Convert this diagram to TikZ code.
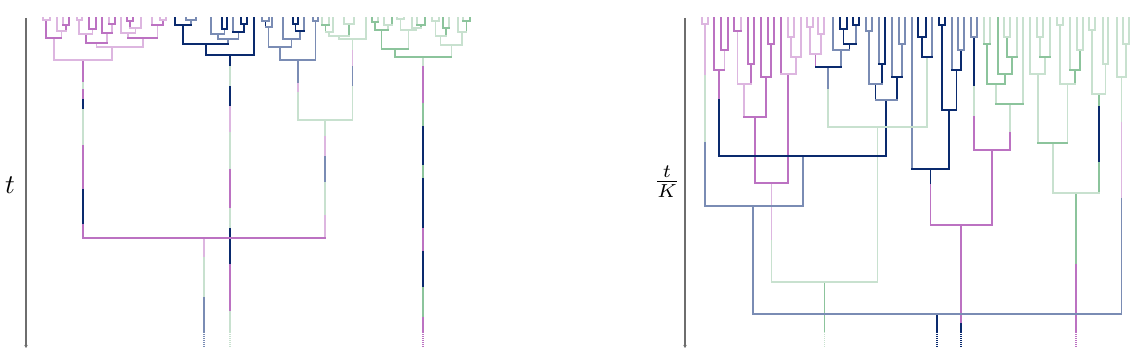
\documentclass[tikz,border=0pt]{standalone}
\usetikzlibrary{arrows.meta}
\definecolor{cPK}{HTML}{BC72C2}
\definecolor{cLP}{HTML}{DDB6E0}
\definecolor{cNV}{HTML}{0A2A6E}
\definecolor{cBG}{HTML}{7A8CB4}
\definecolor{cGN}{HTML}{8CC49C}
\definecolor{cLG}{HTML}{C8E1CF}
\definecolor{axisgray}{HTML}{6E6E6E}
\tikzset{
  axisline/.style={draw=axisgray, line cap=butt, -{Stealth[length=3pt,width=3.5pt]}},
  dotend/.style={dash pattern=on 1pt off 1pt, line cap=butt},
  lbl/.style={inner sep=0pt, scale=2.7}
}
\begin{document}
\begin{tikzpicture}[x=1pt,y=-1pt,line width=1.35pt,line cap=rect]
\useasboundingbox (0,0) rectangle (1133,361);
% ---------- axes and labels
\draw[axisline, line width=1.2pt] (26,18) -- (26,348);
\draw[axisline, line width=1.8pt] (685,18) -- (685,348);
\node[lbl] (tlab) at (10,185) {$t$};
\node[lbl] (tklab) at (667,182) {$\frac{t}{K}$};
% ---------- LEFT PANEL: vertical branches
\foreach \x/\a/\b/\s in {
43/18/20/cLP, 50/18/20/cLP, 46/20/38/cPK,
57/18/31/cLP, 63/18/25/cLP, 69/18/25/cPK, 66/25/31/cPK, 61.5/31/38/cLP, 54/38/60/cLP,
77/18/20/cLP, 82/18/20/cLP, 79/20/34/cLP, 89/18/29/cPK, 96/18/29/cPK, 92.5/29/34/cLP, 86/34/43/cPK,
102/18/33/cPK, 109/18/24/cLP, 115/18/24/cPK, 112/24/33/cLP, 107/33/43/cLP, 96.5/43/47/cLP,
121/18/33/cLP, 127/18/21/cPK, 133/18/21/cPK, 130/21/28/cPK, 141/18/28/cLP, 135.5/28/33/cLP, 128/33/38/cLP,
152/18/25/cLP, 160/18/20/cLP, 166/18/20/cLP, 163/20/25/cPK, 157.5/25/38/cLP, 143/38/47/cLP, 112/47/60/cLP,
83/60/83/cPK, 83/83/90/cLG, 83/90/100/cPK, 83/100/110/cNV, 83/110/146/cLG, 83/146/190/cPK, 83/190/225/cNV, 83/225/238/cPK,
204/238/258/cLP, 204/258/298/cLG, 204/298/332/cBG,
175/18/25/cNV, 186/18/20/cBG, 196/18/20/cBG, 191/20/25/cBG, 183/25/44/cNV,
211/18/34/cBG, 222/18/29/cNV, 227/18/29/cNV, 224.5/29/34/cBG, 218/34/39/cBG,
233/18/32/cBG, 241/18/24/cNV, 247/18/24/cNV, 244/24/32/cNV, 238.5/32/39/cBG, 228/39/44/cBG,
206/44/55/cNV, 254/18/55/cNV,
230/55/67/cNV, 230/67/87/cLG, 230/87/107/cNV, 230/107/133/cLP, 230/133/170/cLG, 230/170/209/cPK, 230/209/229/cLG, 230/229/265/cNV, 230/265/312/cPK, 230/312/332/cLG,
262/18/21/cBG, 269/18/21/cBG, 265.5/21/27/cNV, 272/18/27/cBG, 268.75/27/47/cBG,
283/18/39/cBG, 293/18/24/cNV, 298/18/24/cNV, 295.5/24/31/cNV, 304/18/31/cBG, 300/31/39/cBG, 291.5/39/47/cBG, 280/47/60/cBG,
313/18/21/cBG, 318/18/21/cBG, 315.5/21/60/cBG,
298/60/84/cBG, 298/84/93/cLP, 298/93/120/cLG,
322/18/25/cLG, 329/18/25/cLG, 325.5/25/32/cGN, 333/18/32/cLG, 329/32/36/cLG, 344/18/24/cLG, 354/18/24/cLG, 349/24/36/cGN, 339/36/39/cLG, 366/18/39/cLG,
352.5/39/51/cLG, 352.5/51/67/cLP, 352.5/67/87/cBG, 352.5/87/120/cLG,
325/120/137/cLG, 325/137/157/cLP, 325/157/183/cBG, 325/183/216/cLG, 325/216/238/cLP,
372/18/22/cGN, 378/18/22/cLG, 375/22/30/cGN, 384/18/25/cLG, 392/18/25/cGN, 388/25/30/cLG, 381.5/30/49/cGN,
397/18/19/cLG, 404/18/19/cLG, 400.5/19/30/cLG, 412/18/28/cLG, 417/18/25/cLG, 425/18/25/cGN, 421/25/28/cGN, 416.5/28/30/cLG, 408.5/30/49/cLG, 395/49/57/cGN,
432/18/21/cLG, 439/18/21/cLG, 435.5/21/36/cLG, 443/18/28/cGN, 449/18/28/cLG, 446/28/36/cGN, 440.75/36/45/cLG,
458/18/32/cLG, 463/18/21/cLG, 470/18/21/cGN, 466.5/21/32/cGN, 462/32/45/cLG, 451.5/45/57/cLG,
423/57/67/cLG, 423/67/104/cPK, 423/104/127/cGN, 423/127/166/cNV, 423/166/179/cGN, 423/179/229/cNV, 423/229/252/cPK, 423/252/288/cNV, 423/288/318/cGN, 423/318/332/cPK}
  {\draw[draw=\s] (\x,\a) -- (\x,\b);}
% ---------- LEFT PANEL: horizontal joins
\foreach \a/\b/\y/\s in {
43/50/20/cLP, 46/61.5/38/cPK, 63/69/25/cPK, 57/66/31/cLP, 77/82/20/cLP, 89/96/29/cPK, 79/92.5/34/cLP, 109/115/24/cPK, 102/112/33/cPK, 86/107/43/cPK,
127/133/21/cPK, 130/141/28/cLP, 121/135.5/33/cLP, 160/166/20/cLP, 152/163/25/cPK, 128/157.5/38/cPK, 96.5/143/47/cLP, 54/112/60/cLP, 83/325/238/cPK,
186/196/20/cBG, 175/191/25/cNV, 222/227/29/cNV, 211/224.5/34/cBG, 241/247/24/cNV, 233/244/32/cNV, 218/238.5/39/cBG, 183/228/44/cNV, 206/254/55/cNV,
262/269/21/cBG, 265.5/272/27/cBG, 293/298/24/cNV, 295.5/304/31/cNV, 283/300/39/cBG, 268.75/291.5/47/cBG, 313/318/21/cBG, 280/315.5/60/cBG,
322/329/25/cGN, 325.5/333/32/cLG, 344/354/24/cLG, 329/349/36/cLG, 339/366/39/cLG, 298/352.5/120/cLG,
372/378/22/cGN, 384/392/25/cLG, 375/388/30/cGN, 397/404/19/cLG, 417/425/25/cGN, 412/421/28/cLG, 400.5/416.5/30/cLG, 381.5/408.5/49/cGN,
432/439/21/cLG, 443/449/28/cGN, 435.5/446/36/cLG, 463/470/21/cGN, 458/466.5/32/cLG, 440.75/462/45/cLG, 395/451.5/57/cGN}
  {\draw[draw=\s] (\a,\y) -- (\b,\y);}
% ---------- RIGHT PANEL: vertical branches
\foreach \x/\a/\b/\s in {
702/18/24/cLP, 708/18/24/cLP, 705/24/76/cLP, 705/76/143/cLG, 705/143/206/cBG,
714/18/70/cPK, 721/18/50/cPK, 728/18/50/cPK, 724.5/50/70/cLP, 719/70/100/cPK, 719/100/156/cNV,
734/18/31/cPK, 741/18/31/cLP, 737.5/31/84/cLP, 748/18/64/cPK, 754/18/64/cPK, 751/64/84/cPK, 744/84/117/cLP,
761/18/77/cPK, 768/18/44/cPK, 774/18/44/cPK, 771/44/77/cPK, 766/77/117/cPK, 755/117/183/cPK,
781/18/74/cPK, 788/18/37/cLP, 794/18/37/cLP, 791/37/57/cLP, 801/18/57/cLP, 796/57/74/cLP, 788/74/183/cPK,
771.5/183/241/cLP, 771.5/241/282/cLG,
807/18/27/cLP, 813/18/27/cLP, 810/27/54/cLP, 818/18/34/cLP, 824/18/34/cLP, 821/34/54/cLP, 815.5/54/67/cPK,
833/18/50/cBG, 840/18/29/cNV, 847/18/29/cNV, 843.5/29/44/cNV, 853/18/25/cNV, 859/18/25/cNV, 856/25/44/cBG, 849.75/44/50/cNV, 841/50/67/cBG,
828/67/90/cBG, 828/90/127/cLG,
866/18/31/cBG, 872/18/31/cBG, 869/31/84/cBG, 879/18/64/cBG, 885/18/64/cNV, 882/64/84/cNV, 875.5/84/100/cNV,
892/18/77/cBG, 899/18/44/cBG, 905/18/44/cBG, 902/44/77/cBG, 897/77/100/cNV, 886/100/156/cNV,
803/156/206/cBG, 753/206/314/cBG,
912/18/169/cBG,
918/18/37/cNV, 926/18/37/cNV, 922/37/57/cNV, 932/18/57/cBG, 927/57/127/cLG, 877.5/127/282/cLG, 824.5/282/332/cGN,
939/18/25/cNV, 945/18/25/cNV, 942/25/110/cNV, 952/18/70/cBG, 958/18/50/cBG, 964/18/50/cBG, 961/50/70/cNV, 956.5/70/110/cNV, 949/110/169/cNV, 930.5/169/185/cNV, 930.5/185/225/cPK,
971/18/37/cBG, 977/18/37/cBG, 974/37/87/cNV, 974/87/117/cLG, 974/117/150/cPK,
984/18/44/cLG, 990/18/44/cLG, 987/44/84/cGN, 998/18/74/cGN, 1004/18/37/cLG, 1010/18/37/cLG, 1007/37/57/cGN, 1017/18/57/cLG, 1012/57/74/cGN, 1005/74/84/cGN, 996/84/104/cLG, 1023/18/104/cLG, 1010/104/133/cLG, 1010/133/150/cPK, 992/150/225/cPK, 961/225/324/cPK, 961/324/332/cNV,
1030/18/74/cLG, 1037/18/37/cLG, 1043/18/37/cLG, 1040/37/57/cLG, 1050/18/57/cLG, 1045/57/74/cLG, 1038/74/143/cLG,
1057/18/25/cLG, 1063/18/25/cLG, 1060/25/84/cLG, 1070/18/70/cLG, 1077/18/50/cLG, 1083/18/50/cLG, 1080/50/70/cGN, 1075/70/84/cGN, 1067.5/84/143/cLG, 1053/143/193/cLG,
1089/18/30/cLG, 1095/18/30/cLG, 1092/30/94/cLG, 1103/18/64/cLG, 1108/18/64/cLG, 1105.5/64/94/cLG, 1099/94/107/cGN, 1099/107/163/cNV, 1099/163/193/cGN, 1076/193/265/cGN, 1076/265/332/cPK,
1117/18/77/cLG, 1123/18/44/cLG, 1129/18/44/cLG, 1126/44/77/cLG, 1121.5/77/123/cLG, 1121.5/123/199/cLP, 1121.5/199/314/cBG,
937/314/332/cNV}
  {\draw[draw=\s] (\x,\a) -- (\x,\b);}
% ---------- RIGHT PANEL: horizontal joins
\foreach \a/\b/\y/\s in {
702/708/24/cLP, 721/728/50/cPK, 714/724.5/70/cPK, 734/741/31/cPK, 748/754/64/cPK, 737.5/751/84/cLP, 768/774/44/cPK, 761/771/77/cPK, 744/766/117/cPK, 788/794/37/cLP, 791/801/57/cLP, 781/796/74/cLP, 755/788/183/cPK,
807/813/27/cLP, 818/824/34/cLP, 810/821/54/cLP, 840/847/29/cNV, 853/859/25/cNV, 843.5/856/44/cNV, 833/849.75/50/cBG, 815.5/841/67/cNV,
866/872/31/cBG, 879/885/64/cNV, 869/882/84/cBG, 899/905/44/cBG, 892/902/77/cNV, 875.5/897/100/cBG,
719/886/156/cNV, 705/803/206/cBG,
918/926/37/cNV, 922/932/57/cNV, 828/927/127/cLG, 771.5/877.5/282/cLG,
939/945/25/cNV, 958/964/50/cBG, 952/961/70/cNV, 942/956.5/110/cNV, 912/949/169/cNV,
971/977/37/cBG, 984/990/44/cGN, 1004/1010/37/cLG, 1007/1017/57/cGN, 998/1012/74/cGN, 987/1005/84/cGN, 996/1023/104/cGN, 974/1010/150/cPK, 930.5/992/225/cPK,
1037/1043/37/cLG, 1040/1050/57/cGN, 1030/1045/74/cLG, 1057/1063/25/cLG, 1077/1083/50/cLG, 1070/1080/70/cGN, 1060/1075/84/cLG, 1038/1067.5/143/cGN, 1089/1095/30/cLG, 1103/1108/64/cLG, 1092/1105.5/94/cLG, 1053/1099/193/cLG,
1123/1129/44/cLG, 1117/1126/77/cLG, 753/1121.5/314/cBG}
  {\draw[draw=\s] (\a,\y) -- (\b,\y);}
% ---------- dotted continuations below the picture
\foreach \x/\s in {204/cBG, 230/cLG, 423/cPK, 824.5/cLG, 937/cNV, 961/cNV, 1076/cPK}
  {\draw[draw=\s, dotend] (\x,332) -- (\x,348);}
\end{tikzpicture}
\end{document}
